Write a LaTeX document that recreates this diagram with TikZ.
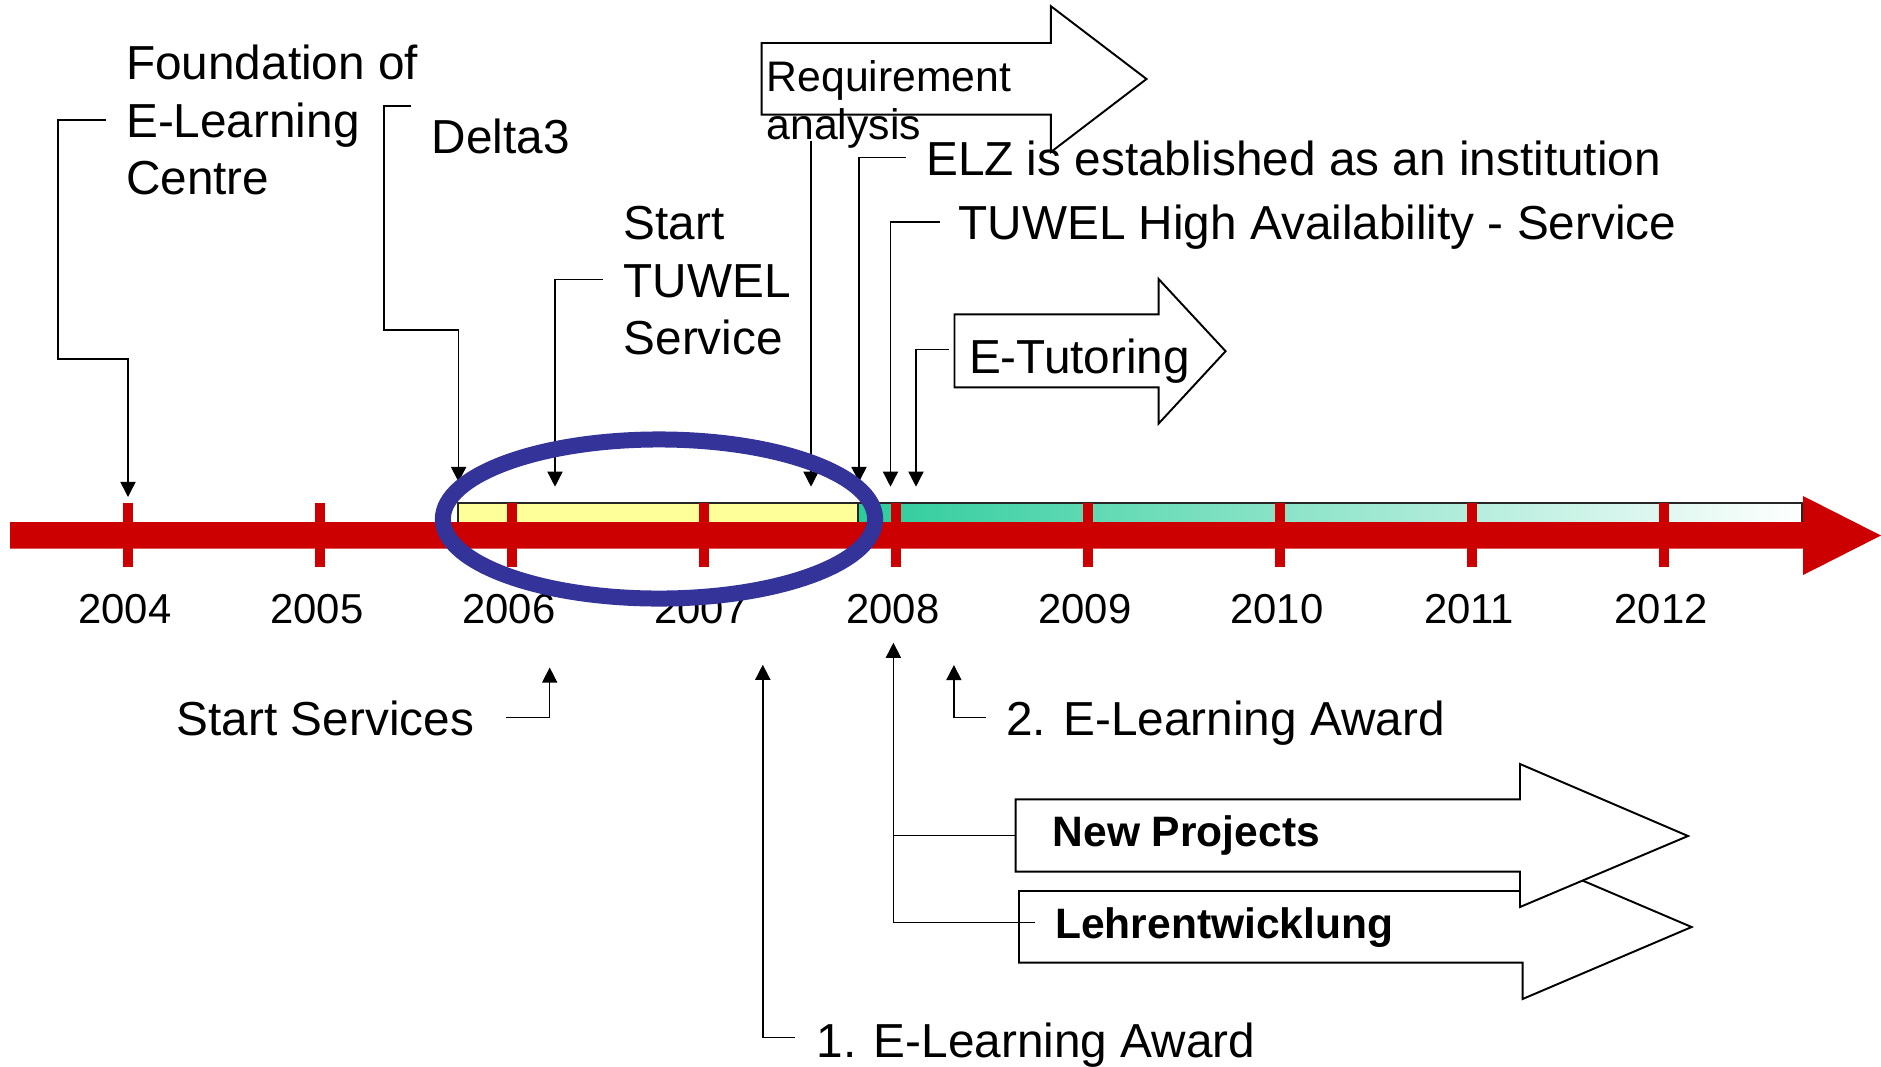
\documentclass[tikz,border=0pt]{standalone}
\usepackage{fontspec}
\setmainfont{Liberation Sans}
\usetikzlibrary{arrows.meta}
\definecolor{barred}{RGB}{204,0,0}
\definecolor{ringblue}{RGB}{51,51,153}
\definecolor{bandyellow}{RGB}{255,255,153}
\definecolor{bandteal}{RGB}{44,204,154}
\begin{document}
\begin{tikzpicture}[x=0.01cm,y=-0.01cm,
  lbl/.style={anchor=base west, inner sep=0pt, font=\fontsize{13.57}{16}\selectfont},
  small/.style={anchor=base west, inner sep=0pt, font=\fontsize{12.15}{14}\selectfont},
  yr/.style={anchor=base, inner sep=0pt, font=\fontsize{11.9}{14}\selectfont},
  boldlbl/.style={anchor=base west, inner sep=0pt, font=\fontsize{12.1}{14}\selectfont\bfseries},
  callout/.style={line width=0.43pt, -{Triangle[length=4.3pt,width=4.3pt]}},
  link/.style={line width=0.43pt},
  bigarrow/.style={draw, line width=0.55pt, fill=white},
  tick/.style={fill=barred},
]
\useasboundingbox (0,0) rectangle (1881,1066);

% coloured band above the bar
\fill[bandyellow] (458,503) rectangle (858,522);
\shade[left color=bandteal, right color=white] (858,503) rectangle (1802,522);
\draw[line width=0.5pt, black!85] (458,522) -- (458,503) -- (1802,503) -- (1802,522);
\draw[line width=0.5pt, black!85] (858,503) -- (858,522);

% main red arrow
\fill[barred] (10,522) -- (1803,522) -- (1803,496) -- (1881,535.5) -- (1803,575) -- (1803,548.5) -- (10,548.5) -- cycle;

% ticks and years
\foreach \k/\yy in {0/2004,1/2005,2/2006,3/2007,4/2008,5/2009,6/2010,7/2011,8/2012}{
  \pgfmathsetmacro{\tx}{128+192*\k}
  \fill[tick] (\tx-5,503) rectangle (\tx+5,567);
  \node[yr] (y\yy) at (\tx-3,623.6) {\yy};
}

% big arrow shapes
\draw[bigarrow] (761.7,43) -- (1050.9,43) -- (1050.9,6.2) -- (1146.5,79) -- (1050.9,152) -- (1050.9,114.7) -- (761.7,114.7) -- cycle;
\draw[bigarrow] (954.5,314.4) -- (1158.6,314.4) -- (1158.6,279) -- (1225.6,351.2) -- (1158.6,423.6) -- (1158.6,387.4) -- (954.5,387.4) -- cycle;
\draw[bigarrow] (1019,891) -- (1522.6,891) -- (1522.6,855) -- (1691.6,927) -- (1522.6,999) -- (1522.6,962.7) -- (1019,962.7) -- cycle;
\draw[bigarrow] (1015.7,799.3) -- (1520,799.3) -- (1520,764) -- (1688,836) -- (1520,907) -- (1520,871.7) -- (1015.7,871.7) -- cycle;

% texts
\node[lbl] (f1) at (125.5,79.9) {Foundation of};
\node[lbl] (f2) at (125.5,137.7) {E-Learning};
\node[lbl] (f3) at (125.5,194.6) {Centre};
\node[lbl] (delta) at (431,153) {Delta3};
\node[lbl] (s1) at (623,239) {Start};
\node[lbl] (s2) at (623,297) {TUWEL};
\node[lbl] (s3) at (623,354) {Service};
\node[small] (r1) at (766,91.3) {Requirement};
\node[small] (r2) at (766,139.5) {analysis};
\node[lbl] (elz) at (925.5,175.6) {ELZ is established as an institution};
\node[lbl] (ha) at (957.8,239.3) {TUWEL High Availability - Service};
\node[lbl] (et) at (968.3,373.6) {E-Tutoring};
\node[lbl] (ss) at (176.2,735.4) {Start Services};
\node[lbl] (a2) at (1005.3,735) {2. E-Learning Award};
\node[lbl] (a1) at (815.8,1057) {1. E-Learning Award};
\node[boldlbl] (np) at (1052,846.7) {New Projects};
\node[boldlbl] (lw) at (1054.5,938.3) {Lehrentwicklung};

% connector end points
\coordinate (cF0) at (106,119.8);  \coordinate (cF1) at (128,497);
\coordinate (cD0) at (410.7,106);  \coordinate (cD1) at (458.6,482);
\coordinate (cS0) at (602.5,279.6); \coordinate (cS1) at (555,486.7);
\coordinate (cR0) at (811,141);    \coordinate (cR1) at (811,486.7);
\coordinate (cE0) at (905.6,157.7); \coordinate (cE1) at (859,482);
\coordinate (cH0) at (939.5,222);  \coordinate (cH1) at (890.5,486.7);
\coordinate (cT0) at (948.5,349.5); \coordinate (cT1) at (916,486.7);
\coordinate (cV0) at (505.7,717.4); \coordinate (cV1) at (549.7,667.5);
\coordinate (cA0) at (795,1037.6); \coordinate (cA1) at (762.8,664.7);
\coordinate (cB0) at (986,717.7);  \coordinate (cB1) at (953.9,665);
\coordinate (cL0) at (1035.4,922.7); \coordinate (cL1) at (893.4,642.7);
\coordinate (cN0) at (1015.7,835.7);

% connectors
\draw[callout] (cF0) -- (58,119.8) -- (58,359) -- (128,359) -- (cF1);
\draw[callout] (cD0) -- (384,106) -- (384,330) -- (458.6,330) -- (cD1);
\draw[callout] (cS0) -| (cS1);
\draw[callout] (cR0) -- (cR1);
\draw[callout] (cE0) -| (cE1);
\draw[callout] (cH0) -| (cH1);
\draw[callout] (cT0) -| (cT1);
\draw[callout] (cV0) -| (cV1);
\draw[callout] (cA0) -| (cA1);
\draw[callout] (cB0) -| (cB1);
\draw[callout] (cL0) -| (cL1);
\draw[link] (cN0) -- (893.4,835.7);

% blue ring
\draw[ringblue, line width=4.55pt] (659,519) ellipse [x radius=2.16cm, y radius=0.795cm];
\end{tikzpicture}
\end{document}
